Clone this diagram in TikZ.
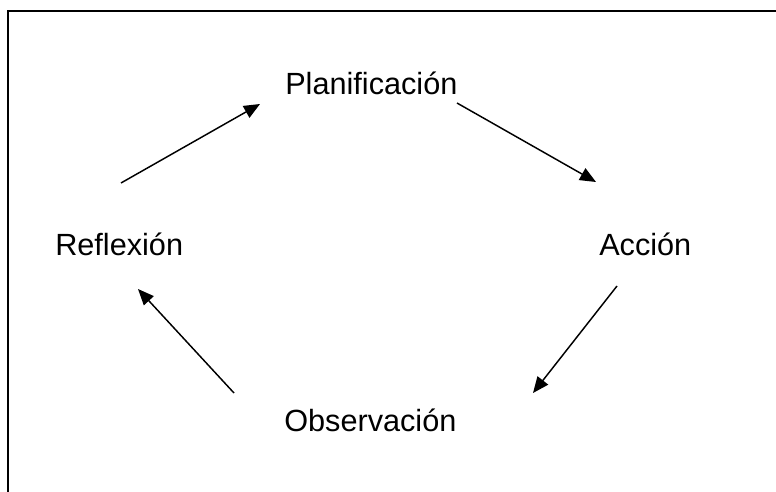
\documentclass[tikz,border=0pt]{standalone}
\usepackage{fontspec}
\setmainfont{Liberation Sans}
\usetikzlibrary{arrows.meta}
\begin{document}
\begin{tikzpicture}[x=0.75pt,y=-0.75pt,
  lbl/.style={anchor=base west,inner sep=0pt,font=\fontsize{23}{27}\selectfont},
  arr/.style={line width=1.1pt,-{Triangle[length=12pt,width=10pt]}},
  frame/.style={line width=1.6pt}]
\useasboundingbox (0,0) rectangle (776,492);
\fill[white] (0,0) rectangle (776,492);
\draw[frame] (8,492) -- (8,11) -- (776,11);
\node[lbl] (plan) at (285,95) {Planificación};
\node[lbl] (acc) at (599,255) {Acción};
\node[lbl] (obs) at (284,431) {Observación};
\node[lbl] (ref) at (55,255) {Reflexión};
\coordinate (r1) at (121,183);
\coordinate (p0) at (260,104);
\coordinate (p1) at (457,103);
\coordinate (a0) at (596,182);
\coordinate (a1) at (617,286);
\coordinate (o0) at (533,393);
\coordinate (o1) at (234,393);
\coordinate (r0) at (138,289);
\draw[arr] (r1) -- (p0);
\draw[arr] (p1) -- (a0);
\draw[arr] (a1) -- (o0);
\draw[arr] (o1) -- (r0);
\end{tikzpicture}
\end{document}
